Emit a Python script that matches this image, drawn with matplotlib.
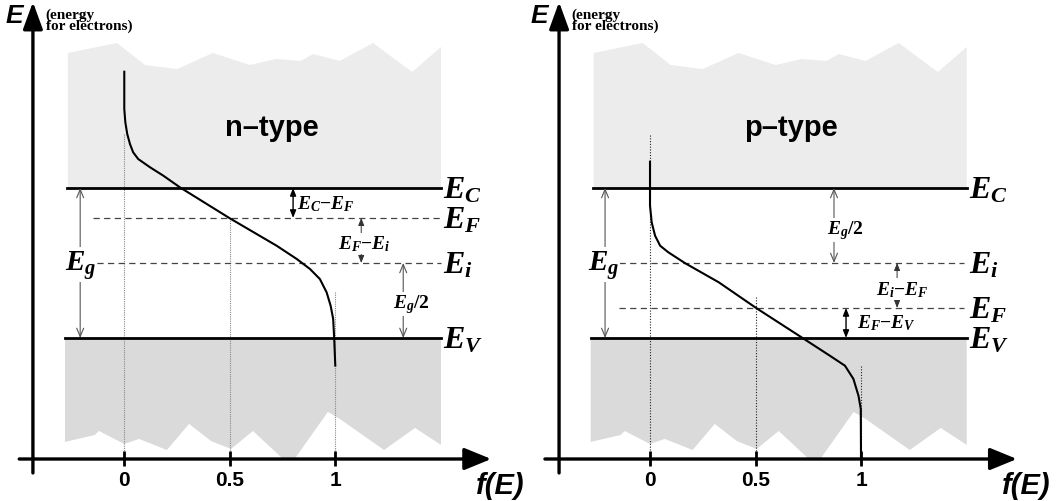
import numpy as np
import matplotlib.pyplot as plt

plt.rcParams['mathtext.fontset'] = 'custom'
plt.rcParams['mathtext.it'] = 'Liberation Serif:italic:bold'
plt.rcParams['mathtext.rm'] = 'Liberation Serif:bold'
plt.rcParams['mathtext.bf'] = 'Liberation Serif:bold'

# energies in units of the gap (E_V = 0, E_C = 1)
E_C, E_V, E_I = 1.0, 0.0, 0.5
EF_N, EF_P = 0.8, 0.2

# occupation curves: f(E) vs E
n_f = [0, 0, 0.005, 0.014, 0.027, 0.042, 0.066, 0.122, 0.185, 0.264, 0.5,
       0.722, 0.817, 0.880, 0.927, 0.959, 0.978, 0.990, 0.995, 1.0]
n_E = [1.775, 1.527, 1.438, 1.36, 1.293, 1.238, 1.193, 1.138, 1.082, 1.004, 0.798,
       0.615, 0.527, 0.46, 0.393, 0.304, 0.215, 0.127, -0.007, -0.184]
p_f = [0, 0, 0.008, 0.024, 0.048, 0.087, 0.167, 0.326, 0.505,
       0.725, 0.852, 0.924, 0.964, 0.988, 0.999, 1.0]
p_E = [1.175, 0.882, 0.771, 0.682, 0.615, 0.571, 0.498, 0.371, 0.198,
       -0.002, -0.118, -0.185, -0.273, -0.385, -0.473, -0.807]

# ragged outline of the conduction band (top) and valence band (bottom)
cb_f = [-0.267, -0.035, 0.098, 0.25, 0.42, 0.596, 0.719, 0.837, 0.894, 1.022, 1.179, 1.364, 1.501]
cb_E = [1.9, 1.967, 1.82, 1.793, 1.9, 1.82, 1.86, 1.847, 1.893, 1.847, 1.967, 1.773, 1.94]
vb_f = [-0.281, -0.139, -0.12, 0, 0.07, 0.202, 0.307, 0.411, 0.506, 0.61, 0.757,
        0.804, 0.965, 1.022, 1.231, 1.378, 1.501]
vb_E = [-0.693, -0.647, -0.62, -0.707, -0.673, -0.747, -0.573, -0.687, -0.74, -0.62,
        -0.813, -0.813, -0.493, -0.54, -0.747, -0.6, -0.713]

tick_vals = [0, 0.5, 1]
tick_labels = ['0', '0.5', '1']

SANS_BOLD = dict(family='Liberation Sans', weight='bold')
AX_Y = -0.807


def darrow(ax, x, y0, y1, style, color, lw):
    ax.annotate('', xy=(x, y1), xytext=(x, y0),
                arrowprops=dict(arrowstyle=style, color=color, lw=lw,
                                shrinkA=0, shrinkB=0, mutation_scale=10))


def panel(ax, x0, axis_x, curve_f, curve_E, name, name_x, dot_tops, dot_color, dot_ls):
    ax.set_xlim(x0, x0 + 531 / 211)
    ax.set_ylim(-1.087, 2.26)
    ax.axis('off')

    # bands
    ax.fill(cb_f + [cb_f[-1], cb_f[0]], cb_E + [E_C, E_C], color='#ececec', lw=0, zorder=0)
    ax.fill(vb_f + [vb_f[-1], -0.281], vb_E + [E_V, E_V], color='#dadada', lw=0, zorder=0)
    ax.plot([-0.27, 1.501], [E_C, E_C], color='k', lw=2.0, zorder=3)
    ax.plot([-0.28, 1.501], [E_V, E_V], color='k', lw=2.0, zorder=3)

    # dotted guides
    for v, top in zip(tick_vals, dot_tops):
        ax.plot([v, v], [top, AX_Y], color=dot_color, lw=0.8, ls=dot_ls, zorder=1)

    ax.plot(curve_f, curve_E, color='k', lw=1.5, zorder=4)

    ax.text(name_x, 1.353, name, ha='center', va='baseline', fontsize=21, **SANS_BOLD)

    # axes with arrows
    ax.annotate('', xy=(axis_x, 2.24), xytext=(axis_x, -0.9),
                arrowprops=dict(arrowstyle='-|>,head_length=1.1,head_width=0.4',
                                color='k', lw=2.4, shrinkA=0, shrinkB=0, mutation_scale=15))
    ax.annotate('', xy=(1.739, AX_Y), xytext=(-0.498, AX_Y),
                arrowprops=dict(arrowstyle='-|>,head_length=1.1,head_width=0.45',
                                color='k', lw=2.4, shrinkA=0, shrinkB=0, mutation_scale=15))
    ax.vlines(tick_vals, -0.753, -0.853, color='k', lw=2)
    for v, lab in zip(tick_vals, tick_labels):
        ax.text(v, -0.98, lab, ha='center', va='baseline', fontsize=15, **SANS_BOLD)
    ax.text(1.667, -1.033, 'f(E)', ha='left', va='baseline', fontsize=21,
            style='italic', **SANS_BOLD)
    ax.text(-0.565, 2.107, 'E', ha='left', va='baseline', fontsize=19,
            style='italic', **SANS_BOLD)
    ax.text(-0.372, 2.2, '(energy\nfor electrons)', ha='left', va='top', fontsize=11,
            family='Liberation Serif', weight='bold', linespacing=0.72)


def level(ax, E, lab):
    ax.text(1.512, E - 0.065, lab, ha='left', va='baseline', fontsize=23)


WHITE = dict(fc='white', ec='none', pad=0.5)
OPEN = '<->,head_length=0.6,head_width=0.25'
FILLED = '<|-|>,head_length=0.45,head_width=0.18'

fig = plt.figure(figsize=(10.62, 5.02), dpi=100)
axn = fig.add_axes([0, 0, 0.5, 1])
axp = fig.add_axes([0.5, 0, 0.5, 1])

# ---- n-type ----
panel(axn, -0.589, -0.433, n_f, n_E, 'n\u2013type', 0.698,
      [1.36, EF_N, 0.307], '#888888', (0, (1, 1)))
axn.plot([-0.147, 1.50], [EF_N, EF_N], color='#444444', lw=0.9, ls=(0, (5, 3.5)), zorder=1)
axn.plot([-0.28, 1.50], [E_I, E_I], color='#444444', lw=0.9, ls=(0, (5, 3.5)), zorder=1)
for E, lab in [(E_C, '$E_C$'), (EF_N, '$E_F$'), (E_I, '$E_i$'), (E_V, '$E_V$')]:
    level(axn, E, lab)
darrow(axn, -0.209, E_C, E_V, OPEN, '#555555', 0.8)
axn.text(-0.209, 0.49, '$E_g$', ha='center', va='center', fontsize=21, bbox=WHITE)
darrow(axn, 0.80, E_C, EF_N, FILLED, 'k', 1.0)
axn.text(0.82, 0.9, '$E_C{-}E_F$', ha='left', va='center', fontsize=14)
darrow(axn, 1.123, EF_N, E_I, FILLED, '#333333', 0.7)
axn.text(1.136, 0.63, '$E_F{-}E_i$', ha='center', va='center', fontsize=14, bbox=WHITE)
darrow(axn, 1.322, E_I, E_V, OPEN, '#555555', 0.8)
axn.text(1.275, 0.227, '$E_g/2$', ha='left', va='center', fontsize=14, bbox=WHITE)

# ---- p-type ----
panel(axp, -0.564, -0.431, p_f, p_E, 'p\u2013type', 0.666,
      [1.35, 0.273, -0.187], '#222222', (0, (1, 1.5)))
axp.plot([-0.147, 1.49], [E_I, E_I], color='#444444', lw=0.9, ls=(0, (5, 3.5)), zorder=1)
axp.plot([-0.147, 1.49], [EF_P, EF_P], color='#444444', lw=0.9, ls=(0, (5, 3.5)), zorder=1)
for E, lab in [(E_C, '$E_C$'), (E_I, '$E_i$'), (EF_P, '$E_F$'), (E_V, '$E_V$')]:
    level(axp, E, lab)
darrow(axp, -0.213, E_C, E_V, OPEN, '#555555', 0.8)
axp.text(-0.218, 0.49, '$E_g$', ha='center', va='center', fontsize=21, bbox=WHITE)
darrow(axp, 0.872, E_C, E_I, OPEN, '#555555', 0.8)
axp.text(0.839, 0.72, '$E_g/2$', ha='left', va='center', fontsize=14, bbox=WHITE)
darrow(axp, 1.171, E_I, EF_P, FILLED, '#333333', 0.7)
axp.text(1.194, 0.327, '$E_i{-}E_F$', ha='center', va='center', fontsize=14, bbox=WHITE)
darrow(axp, 0.929, EF_P, E_V, FILLED, 'k', 1.0)
axp.text(0.981, 0.107, '$E_F{-}E_V$', ha='left', va='center', fontsize=14)

fig.savefig('out.png', dpi=100)
